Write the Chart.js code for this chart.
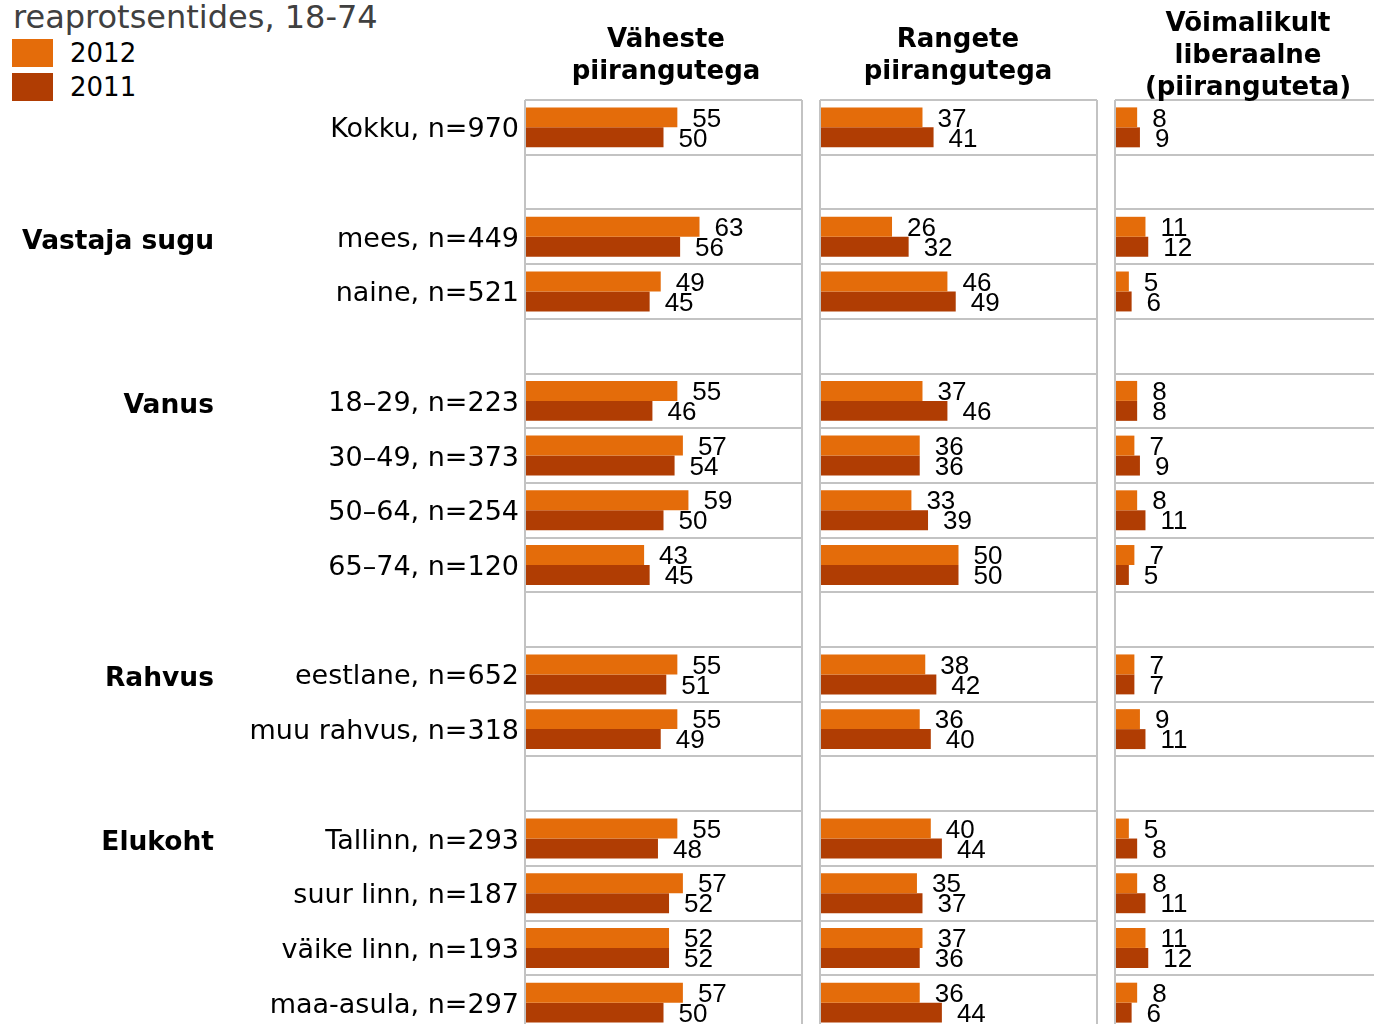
<!DOCTYPE html>
<html>
<head>
<meta charset="utf-8">
<script src="https://cdn.jsdelivr.net/npm/chart.js@4"></script>
<style>
	html, body { margin: 0; padding: 0; background: #fff; overflow: hidden; width: 1374px; height: 1024px; }
	#wrap { position: relative; width: 1374px; height: 1024px; }
	canvas { position: absolute; top: 0; }
	.title { position: absolute; left: 13px; top: -2px; font: 32px "DejaVu Sans", sans-serif; color: #404040; white-space: nowrap; }
	.legend { position: absolute; left: 12px; top: 36px; font: 26px "DejaVu Sans", sans-serif; color: #000; }
	.legend div { display: flex; align-items: center; height: 34px; }
	.legend span.box { display: inline-block; width: 41px; height: 28px; margin-right: 17px; }
	.head { position: absolute; width: 300px; text-align: center; font: bold 26px "DejaVu Sans", sans-serif; line-height: 32px; color: #000; }
</style>
</head>
<body>
<div id="wrap">
	<div class="title">reaprotsentides, 18-74</div>
	<div class="legend" id="legend"></div>
	<canvas id="chart-p1" width="805" height="1052" style="left:0px"></canvas>
	<canvas id="chart-p2" width="282" height="1052" style="left:818px"></canvas>
	<canvas id="chart-p3" width="282" height="1052" style="left:1113px"></canvas>
</div>
<script>
// Chart data
const CATEGORIES = [
	"Kokku, n=970", "",
	"mees, n=449", "naine, n=521", "",
	"18–29, n=223", "30–49, n=373", "50–64, n=254", "65–74, n=120", "",
	"eestlane, n=652", "muu rahvus, n=318", "",
	"Tallinn, n=293", "suur linn, n=187", "väike linn, n=193", "maa-asula, n=297",
];
const GROUPS = ["", "", "Vastaja sugu", "", "", "Vanus", "", "", "", "", "Rahvus", "", "", "Elukoht", "", "", ""];

const PANELS = [["Väheste", "piirangutega"], ["Rangete", "piirangutega"], ["Võimalikult", "liberaalne", "(piiranguteta)"]];
const YEARS = ["2012", "2011"];

const VAHESTE_2012 = [55, null, 63, 49, null, 55, 57, 59, 43, null, 55, 55, null, 55, 57, 52, 57];
const VAHESTE_2011 = [50, null, 56, 45, null, 46, 54, 50, 45, null, 51, 49, null, 48, 52, 52, 50];
const RANGETE_2012 = [37, null, 26, 46, null, 37, 36, 33, 50, null, 38, 36, null, 40, 35, 37, 36];
const RANGETE_2011 = [41, null, 32, 49, null, 46, 36, 39, 50, null, 42, 40, null, 44, 37, 36, 44];
const LIBERAAL_2012 = [8, null, 11, 5, null, 8, 7, 8, 7, null, 7, 9, null, 5, 8, 11, 8];
const LIBERAAL_2011 = [9, null, 12, 6, null, 8, 9, 11, 5, null, 7, 11, null, 8, 11, 12, 6];

const COLORS = ["#e46c0a", "#b03d03"];
const GRID = "#c3c3c3";

// legend
document.getElementById("legend").innerHTML = YEARS.map((y, i) =>
	`<div><span class="box" style="background:${COLORS[i]}"></span>${y}</div>`).join("");

// panel headers, centred over each panel
const HEAD_X = [666, 958, 1248];
PANELS.forEach((lines, i) => {
	const d = document.createElement("div");
	d.className = "head";
	d.style.left = (HEAD_X[i] - 150) + "px";
	d.style.top = (54 - lines.length * 16) + "px";
	d.innerHTML = lines.join("<br>");
	document.getElementById("wrap").appendChild(d);
});

// value labels at the end of each bar
const valueLabels = {
	id: "valueLabels",
	afterDatasetsDraw(chart) {
		const ctx = chart.ctx;
		ctx.save();
		ctx.font = '26px "Liberation Sans", Arial, sans-serif';
		ctx.fillStyle = "#000";
		ctx.textAlign = "left";
		ctx.textBaseline = "middle";
		chart.data.datasets.forEach((ds, i) => {
			chart.getDatasetMeta(i).data.forEach((bar, j) => {
				if (ds.data[j] == null) return;
				ctx.fillText(ds.data[j], bar.x + 15, bar.y + 2);
			});
		});
		ctx.restore();
	},
};

// bold group names left of the category labels
const groupLabels = {
	id: "groupLabels",
	afterDraw(chart) {
		const ctx = chart.ctx;
		const y = chart.scales.y;
		ctx.save();
		ctx.font = 'bold 26.5px "DejaVu Sans", sans-serif';
		ctx.fillStyle = "#000";
		ctx.textAlign = "right";
		ctx.textBaseline = "middle";
		GROUPS.forEach((g, i) => {
			if (g) ctx.fillText(g, 214, y.getPixelForValue(i) + 5);
		});
		ctx.restore();
	},
};

const makePanel = (id, d2012, d2011, first) => {
	const CONFIG = {
		type: "bar",
		data: {
			labels: CATEGORIES,
			datasets: [
				{ label: YEARS[0], data: d2012, backgroundColor: COLORS[0] },
				{ label: YEARS[1], data: d2011, backgroundColor: COLORS[1] },
			],
		},
		options: {
			indexAxis: "y",
			responsive: false,
			animation: false,
			datasets: { bar: { barPercentage: 1, categoryPercentage: 0.73 } },
			layout: { padding: { left: first ? 0 : 2, right: 3, top: 100, bottom: 22 } },
			plugins: { legend: { display: false }, tooltip: { enabled: false } },
			scales: {
				x: {
					min: 0,
					max: 100,
					border: { display: false },
					grid: { color: GRID, lineWidth: 2, drawTicks: false },
					ticks: { display: false, stepSize: 100 },
					afterFit: (s) => { s.height = 0; s.paddingLeft = s.paddingRight = 0; },
				},
				y: {
					type: "category",
					offset: true,
					border: { display: false },
					grid: { color: GRID, lineWidth: 2, drawTicks: false, offset: true },
					ticks: {
						display: first,
						padding: 6,
						labelOffset: 3,
						color: "#000",
						font: { family: "DejaVu Sans", size: 27 },
					},
					afterFit: (s) => {
						s.width = first ? 525 : 0;
						s.paddingTop = s.paddingBottom = 0;
					},
				},
			},
		},
		plugins: first ? [valueLabels, groupLabels] : [valueLabels],
	};
	return new Chart(document.getElementById(id), CONFIG);
};

makePanel("chart-p1", VAHESTE_2012, VAHESTE_2011, true);
makePanel("chart-p2", RANGETE_2012, RANGETE_2011, false);
makePanel("chart-p3", LIBERAAL_2012, LIBERAAL_2011, false);
</script>
</body>
</html>
